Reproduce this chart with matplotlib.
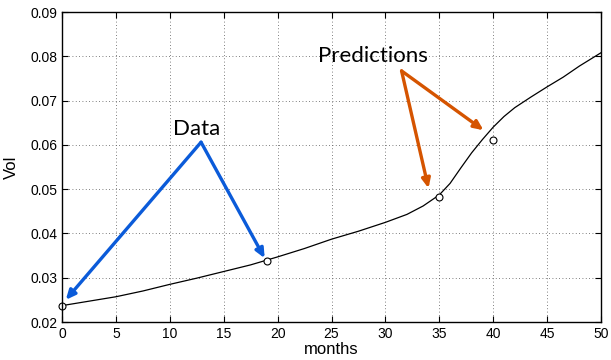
import matplotlib
matplotlib.use("Agg")
import matplotlib.pyplot as plt

# curve
months = [0, 2.5, 5, 7.5, 10, 12.5, 15, 17.5, 20, 22.5, 25, 27.5, 30, 32, 33.5,
          35, 36, 37, 38, 39, 40, 41, 42, 43.5, 45, 46.5, 48, 50]
vol = [0.0237, 0.0247, 0.0257, 0.0270, 0.0285, 0.0299, 0.0314, 0.0329, 0.0347,
       0.0366, 0.0387, 0.0405, 0.0425, 0.0443, 0.0462, 0.0487, 0.0513, 0.0548,
       0.0582, 0.0612, 0.0640, 0.0664, 0.0684, 0.0708, 0.0731, 0.0753, 0.0778, 0.0808]

# observed points
pt_months = [0, 19, 35, 40]
pt_vol = [0.0237, 0.0337, 0.0483, 0.0611]

# annotations: label, label position, arrow tail, arrow heads
data_label = "Data"
data_text = (12.5, 0.0622)
data_tail = (12.9, 0.0606)
data_heads = [(0.35, 0.0250), (18.8, 0.0344)]

pred_label = "Predictions"
pred_text = (28.8, 0.0788)
pred_tail = (31.5, 0.0767)
pred_heads = [(34.0, 0.0502), (39.1, 0.0633)]

blue = "#0b5bd9"
orange = "#d55400"

plt.rcParams['font.family'] = ['Liberation Sans', 'DejaVu Sans']
fig = plt.figure(figsize=(6.11, 3.6), dpi=100)
ax = fig.add_axes([62 / 611, 38 / 360, 539 / 611, 310 / 360])

ax.plot(months, vol, color="black", lw=0.9)
ax.plot(pt_months, pt_vol, "o", mfc="white", mec="black", ms=5, mew=0.8, clip_on=False)

ax.set_xlim(0, 50)
ax.set_ylim(0.02, 0.09)
ax.set_xticks(range(0, 51, 5))
ax.set_yticks([0.02, 0.03, 0.04, 0.05, 0.06, 0.07, 0.08, 0.09])
ax.set_yticklabels(["0.02", "0.03", "0.04", "0.05", "0.06", "0.07", "0.08", "0.09"])
ax.tick_params(direction="in", labelsize=10, length=4, top=True, right=True)
ax.grid(True, linestyle=(0, (1, 3)), color="#555555", lw=0.6)
for s in ax.spines.values():
    s.set_linewidth(1.0)

ax.set_xlabel("months", fontsize=12, labelpad=1)
ax.set_ylabel("Vol", fontsize=12, labelpad=8)

for label, txt, tail, heads, col in [(data_label, data_text, data_tail, data_heads, blue),
                                      (pred_label, pred_text, pred_tail, pred_heads, orange)]:
    ax.text(txt[0], txt[1], label, fontsize=16, family=['Lato', 'DejaVu Sans'],
            ha="center", va="baseline")
    for h in heads:
        ax.annotate("", xy=h, xytext=tail,
                    arrowprops=dict(arrowstyle="-|>,head_length=0.55,head_width=0.25",
                                    color=col, lw=2.4, shrinkA=0, shrinkB=0))

fig.savefig("out.png", dpi=100)
